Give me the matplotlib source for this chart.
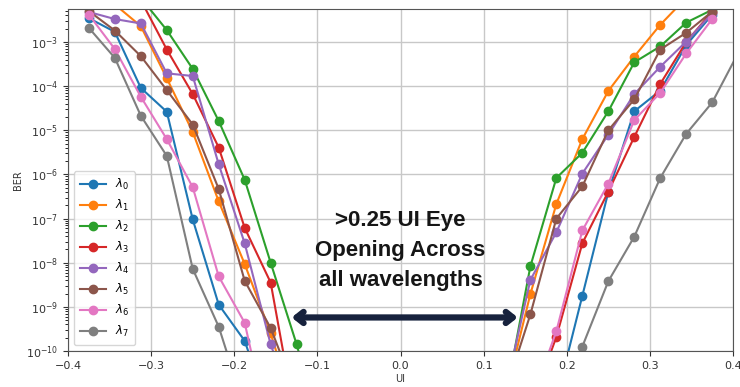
import numpy as np
import matplotlib
matplotlib.use("Agg")
import matplotlib.pyplot as plt

# UI sampling points (left and right bathtub walls)
ui_left = [-0.375, -0.34375, -0.3125, -0.28125, -0.25, -0.21875, -0.1875, -0.15625, -0.125, -0.09375]
ui_right = [0.125, 0.15625, 0.1875, 0.21875, 0.25, 0.28125, 0.3125, 0.34375, 0.375, 0.40625]

nan = np.nan
# log10(BER), one list per wavelength
lam0_left = [-2.46, -2.77, -4.04, -4.58, -7.02, -8.95, -9.77, -11.5, nan, nan]
lam1_left = [-1.6, -2.15, -2.64, -3.82, -5.04, -6.61, -8.03, -9.6, -11.5, nan]
lam2_left = [-1.2, -1.5, -2.0, -2.73, -3.61, -4.79, -6.12, -8.0, -9.85, -12.0]
lam3_left = [-1.4, -1.7, -2.05, -3.17, -4.18, -5.39, -7.21, -8.45, -11.7, nan]
lam4_left = [-2.32, -2.48, -2.58, -3.71, -3.77, -5.77, -7.56, -9.85, -11.5, nan]
lam5_left = [-2.3, -2.74, -3.32, -4.09, -4.87, -6.33, -8.41, -9.48, -11.0, nan]
lam6_left = [-2.38, -3.16, -4.24, -5.2, -6.29, -8.31, -9.36, -12.0, nan, nan]
lam7_left = [-2.68, -3.36, -4.67, -5.58, -8.14, -9.45, -11.3, nan, nan, nan]

lam0_right = [nan, nan, -11.1, -8.75, -6.4, -4.57, -4.1, -3.07, -2.38, nan]
lam1_right = [-11.1, -8.71, -6.67, -5.2, -4.11, -3.33, -2.61, -2.0, nan, nan]
lam2_right = [-11.2, -8.08, -6.08, -5.51, -4.57, -3.46, -3.1, -2.56, -2.27, nan]
lam3_right = [nan, -11.3, -9.68, -7.56, -6.39, -5.15, -3.95, -3.0, -2.31, nan]
lam4_right = [-11.0, -8.39, -7.31, -5.98, -5.1, -4.18, -3.56, -2.99, -2.35, nan]
lam5_right = [-11.0, -9.17, -7.0, -6.27, -5.0, -4.30, -3.17, -2.79, -2.31, nan]
lam6_right = [nan, -11.2, -9.55, -7.27, -6.21, -4.77, -4.15, -3.26, -2.48, nan]
lam7_right = [nan, nan, -11.0, -9.9, -8.42, -7.41, -6.08, -5.08, -4.37, -3.25]

labels = [r'$\lambda_0$', r'$\lambda_1$', r'$\lambda_2$', r'$\lambda_3$',
          r'$\lambda_4$', r'$\lambda_5$', r'$\lambda_6$', r'$\lambda_7$']
left_sets = [lam0_left, lam1_left, lam2_left, lam3_left, lam4_left, lam5_left, lam6_left, lam7_left]
right_sets = [lam0_right, lam1_right, lam2_right, lam3_right, lam4_right, lam5_right, lam6_right, lam7_right]

fig = plt.figure(figsize=(7.4, 3.87), dpi=100)
ax = fig.add_axes([0.092, 0.093, 0.8985, 0.884])

for i, (lab, yl, yr) in enumerate(zip(labels, left_sets, right_sets)):
    col = 'C%d' % i
    ax.plot(ui_left, 10.0 ** np.array(yl), '-o', color=col, ms=6, lw=1.5, label=lab)
    ax.plot(ui_right, 10.0 ** np.array(yr), '-o', color=col, ms=6, lw=1.5)

ax.set_yscale('log')
ax.set_xlim(-0.4, 0.4)
ax.set_ylim(1e-10, 10 ** -2.25)
ax.set_yticks([10.0 ** k for k in range(-10, -2)])
ax.set_xticks(np.arange(-0.4, 0.41, 0.1))
ax.tick_params(labelsize=8, colors='#333333')
ax.grid(True, which='major', color='#c8c8c8', lw=1)
ax.set_xlabel('UI', fontsize=7, labelpad=2, color='#333333')
ax.set_ylabel('BER', fontsize=7, labelpad=2, color='#333333')
for s in ax.spines.values():
    s.set_color('#555555')

ax.legend(loc='lower left', fontsize=8.5, labelspacing=0.5, borderpad=0.5,
          handlelength=2.2, framealpha=0.8)

ax.text(0.0, 10 ** -7.72, '>0.25 UI Eye\nOpening Across\nall wavelengths',
        ha='center', va='center', fontsize=16, fontweight='bold',
        family=['Liberation Sans', 'DejaVu Sans'], color='#161616', linespacing=1.55)

# double-headed eye opening arrow: dark outline with light core
y_arrow = 10 ** -9.24
ax.annotate('', xy=(-0.131, y_arrow), xytext=(0.141, y_arrow),
            arrowprops=dict(arrowstyle='<->,head_length=0.5,head_width=0.4',
                            color='#17223d', lw=4.5, shrinkA=0, shrinkB=0))
ax.plot([-0.118, 0.128], [y_arrow, y_arrow], color='#dfe5f0', lw=1.4, solid_capstyle='butt')

fig.savefig('out.png', dpi=100)
